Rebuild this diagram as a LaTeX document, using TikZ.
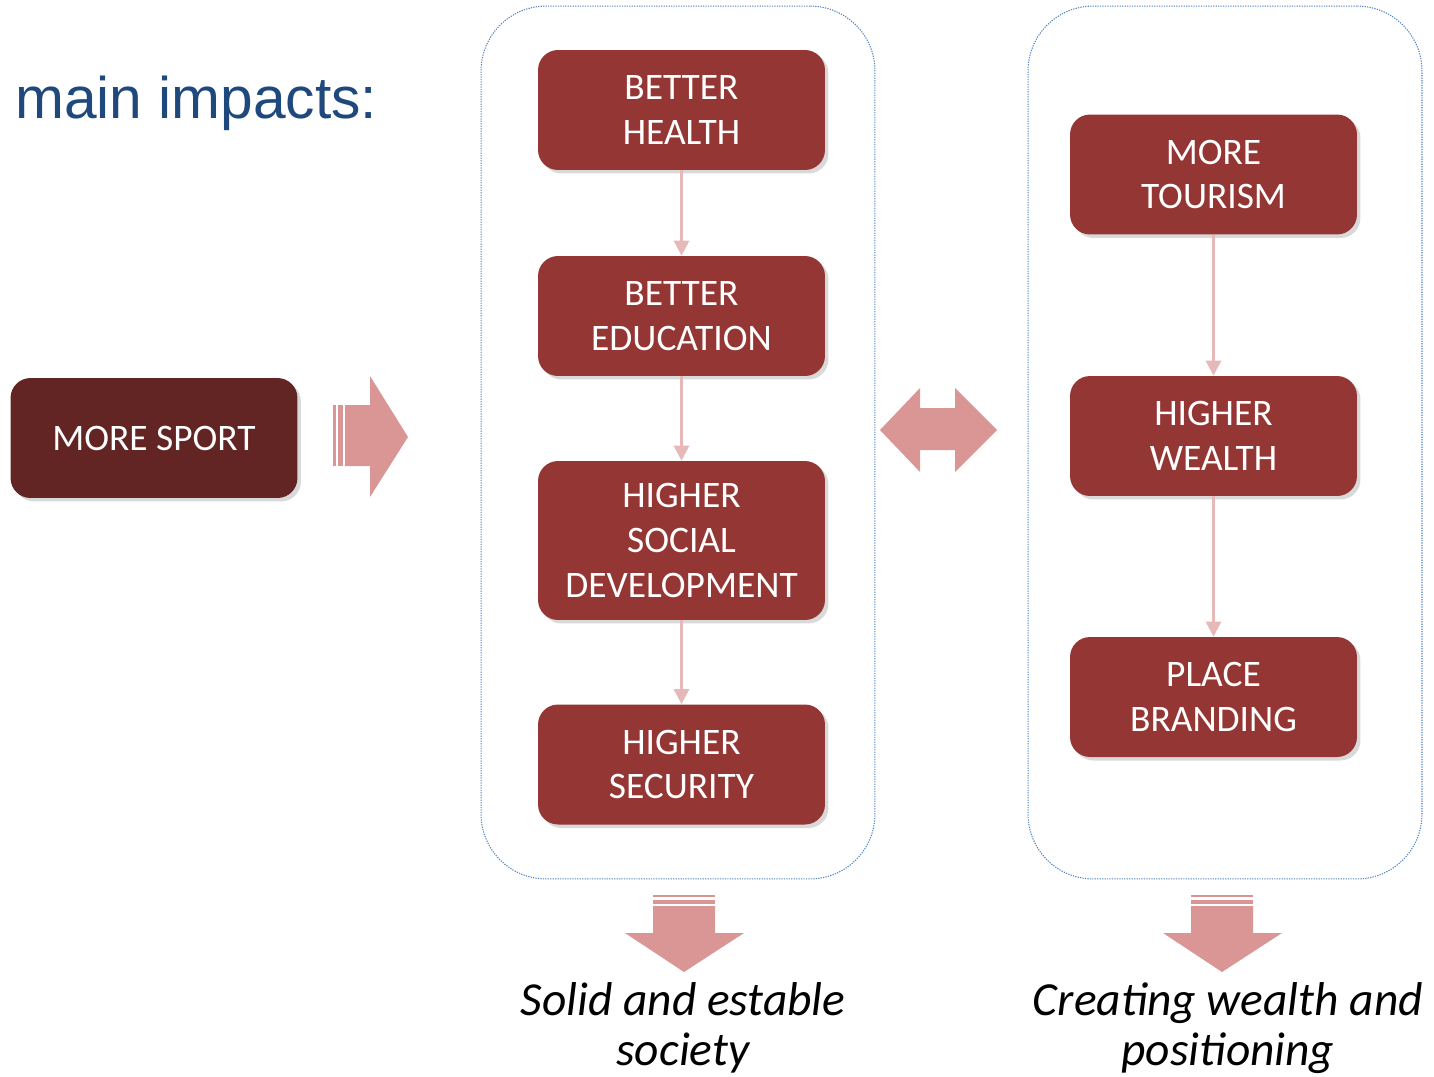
\documentclass[tikz,border=0pt]{standalone}
\usepackage{fontspec}
\setmainfont{Carlito}
\newfontfamily\arialfont{Liberation Sans}
\usetikzlibrary{arrows.meta,shadows}

\definecolor{boxred}{HTML}{943634}
\definecolor{sportred}{HTML}{632523}
\definecolor{arrowpink}{HTML}{D99694}
\definecolor{linkpink}{HTML}{E6B9B8}
\definecolor{frameblue}{HTML}{4F81BD}
\definecolor{titleblue}{HTML}{1F497D}

\tikzstyle{boxstyle} = [fill=boxred, text=white, rounded corners=0.4cm, minimum width=5.74cm, minimum height=2.4cm, align=center, inner sep=0, font=\fontsize{21.3}{25.5}\selectfont, drop shadow={shadow xshift=0.07cm, shadow yshift=-0.07cm, opacity=0.3}]
\tikzstyle{framestyle} = [draw=frameblue, line width=0.6pt, dash pattern=on 0.7pt off 0.7pt, rounded corners=1.3cm, minimum width=7.88cm, minimum height=17.46cm]
\tikzstyle{linkstyle} = [draw=linkpink, line width=0.06cm, -{Triangle[width=0.3cm, length=0.3cm, color=linkpink, fill=linkpink]}]
\tikzstyle{textstyle} = [align=center, inner sep=0, font=\itshape\fontsize{27}{28.35}\selectfont]

\begin{document}
\begin{tikzpicture}[x=0.02cm, y=-0.02cm]
  \useasboundingbox (0,0) rectangle (1434,1076);

  \node at (15,118) [anchor=base west, inner sep=0, text=titleblue, font=\arialfont\fontsize{33.4}{40}\selectfont] (title) {main impacts:};

  \node at (678,442.5) [framestyle] (frameL) {};
  \node at (1225,442.5) [framestyle] (frameR) {};

  \node at (154,438) [boxstyle, fill=sportred] (sport) {MORE SPORT};

  \node at (681.5,110) [boxstyle] (health) {BETTER\\HEALTH};
  \node at (681.5,316) [boxstyle] (education) {BETTER\\EDUCATION};
  \node at (681.5,540.5) [boxstyle, minimum height=3.18cm] (social) {HIGHER\\SOCIAL\\DEVELOPMENT};
  \node at (681.5,764.5) [boxstyle] (security) {HIGHER\\SECURITY};

  \node at (1213.5,174.5) [boxstyle] (tourism) {MORE\\TOURISM};
  \node at (1213.5,436) [boxstyle] (wealth) {HIGHER\\WEALTH};
  \node at (1213.5,697) [boxstyle] (branding) {PLACE\\BRANDING};

  \path
     (health)    edge[linkstyle] (education)
     (education) edge[linkstyle] (social)
     (social)    edge[linkstyle] (security)

     (tourism)   edge[linkstyle] (wealth)
     (wealth)    edge[linkstyle] (branding);

  % big arrows
  \fill[arrowpink] (345,405) -- (370,405) -- (370,376) -- (408,437) -- (370,497) -- (370,466) -- (345,466) -- cycle;
  \fill[arrowpink] (333,405) rectangle (336,466);
  \fill[arrowpink] (338,405) rectangle (343,466);

  \fill[arrowpink] (880,430) -- (920,388) -- (920,408) -- (955,408) -- (955,388) -- (997,430) -- (955,472) -- (955,450) -- (920,450) -- (920,472) -- cycle;

  \fill[arrowpink] (653,906) -- (715,906) -- (715,933) -- (744,933) -- (684,972) -- (625,933) -- (653,933) -- cycle;
  \fill[arrowpink] (653,895) rectangle (715,897);
  \fill[arrowpink] (653,900) rectangle (715,904);

  \fill[arrowpink] (1191,906) -- (1253,906) -- (1253,933) -- (1282,933) -- (1222,972) -- (1163,933) -- (1191,933) -- cycle;
  \fill[arrowpink] (1191,895) rectangle (1253,897);
  \fill[arrowpink] (1191,900) rectangle (1253,904);

  \node at (683,982) [anchor=north, textstyle] (societytext) {Solid and estable\\society};
  \node at (1228,982) [anchor=north, textstyle] (wealthtext) {Creating wealth and\\positioning};
\end{tikzpicture}
\end{document}
